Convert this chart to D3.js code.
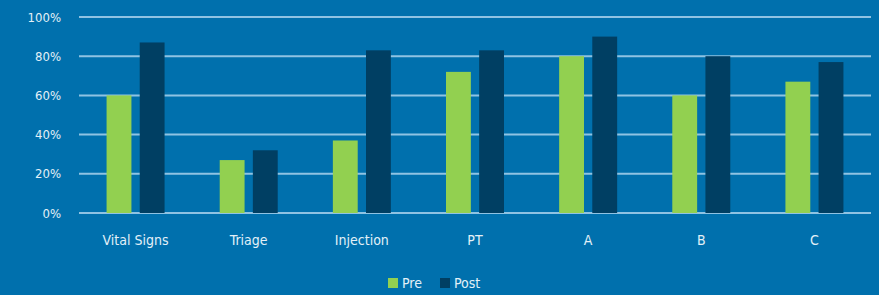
<!DOCTYPE html>
<html>
<head>
<meta charset="utf-8">
<script src="https://cdn.jsdelivr.net/npm/d3@7"></script>
<style>
  body { margin: 0; background: #0070ad; }
  svg text { font-family: "DejaVu Sans Condensed", "Liberation Sans Narrow", sans-serif; fill: #e3f0f8; }
</style>
</head>
<body>
<svg></svg>
<script>
let width = 879;
let height = 295;

// data
let categories = ["Vital Signs", "Triage", "Injection", "PT", "A", "B", "C"];
let preValues  = [60, 27, 37, 72, 80, 60, 67];
let postValues = [87, 32, 83, 83, 90, 80, 77];
let seriesNames = ["Pre", "Post"];
let yTicks = [0, 20, 40, 60, 80, 100];

let colours = ["#92d050", "#003f63"];
let margin = {top: 17, right: 8, bottom: 82, left: 79};

let svg = d3.select("svg")
  .attr("width", width)
  .attr("height", height)
  .style("background-color", "#0070ad");

let x = d3.scaleBand()
  .domain(categories)
  .range([margin.left, width - margin.right]);

let y = d3.scaleLinear()
  .domain([0, 100])
  .range([height - margin.bottom, margin.top]);

// gridlines
svg.selectAll(".grid")
  .data(yTicks)
  .enter()
  .append("line")
    .attr("x1", margin.left)
    .attr("x2", width - margin.right)
    .attr("y1", d => y(d))
    .attr("y2", d => y(d))
    .style("stroke", "#8fc3e3")
    .style("stroke-width", 2);

// y labels
svg.selectAll(".ylab")
  .data(yTicks)
  .enter()
  .append("text")
    .attr("x", 61)
    .attr("y", d => y(d))
    .attr("dy", "0.35em")
    .attr("font-size", "13px")
    .style("text-anchor", "end")
    .text(d => d + "%");

let rows = categories.map((c, i) => ({cat: c, values: [preValues[i], postValues[i]]}));

let inner = d3.scaleBand()
  .domain([0, 1])
  .range([-29, 29])
  .paddingInner(0.25);

let groups = svg.selectAll(".group")
  .data(rows)
  .enter()
  .append("g")
    .attr("transform", d => "translate(" + (x(d.cat) + x.bandwidth() / 2) + ",0)");

groups.selectAll("rect")
  .data(d => d.values)
  .enter()
  .append("rect")
    .attr("x", (d, i) => inner(i))
    .attr("width", inner.bandwidth())
    .attr("y", d => y(d))
    .attr("height", d => y(0) - y(d))
    .style("fill", (d, i) => colours[i]);

// x labels
svg.selectAll(".xlab")
  .data(categories)
  .enter()
  .append("text")
    .attr("x", d => x(d) + x.bandwidth() / 2)
    .attr("y", 245)
    .attr("font-size", "14px")
    .style("text-anchor", "middle")
    .text(d => d);

// legend
let legend = svg.selectAll(".legend")
  .data(seriesNames)
  .enter()
  .append("g")
    .attr("transform", (d, i) => "translate(" + (388 + i * 52) + ",278)");

legend.append("rect")
  .attr("width", 10)
  .attr("height", 10)
  .style("fill", (d, i) => colours[i]);

legend.append("text")
  .attr("x", 14)
  .attr("y", 5)
  .attr("dy", "0.35em")
  .attr("font-size", "14px")
  .text(d => d);
</script>
</body>
</html>
